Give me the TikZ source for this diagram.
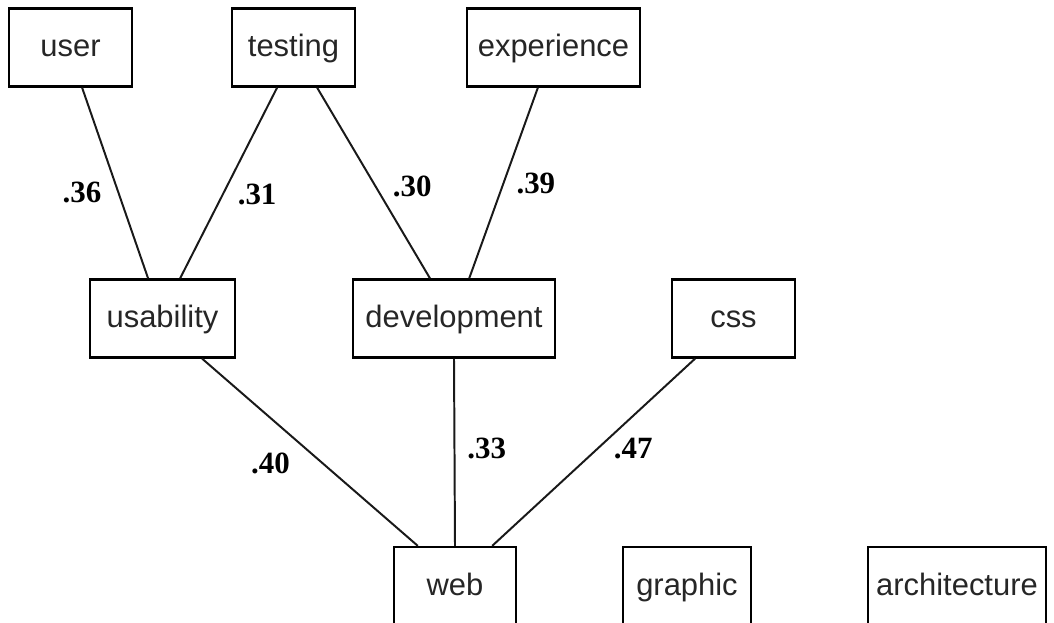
\documentclass[tikz,border=0pt]{standalone}
\usepackage{fontspec}
\setmainfont{Liberation Serif}
\setsansfont{Liberation Sans}
\usetikzlibrary{positioning}

\begin{document}
\begin{tikzpicture}[x=0.025cm,y=-0.025cm,auto,
		term node/.style={rectangle,draw,line width=1.6pt,inner sep=0pt,
			minimum height=1.95cm,text height=16pt,text depth=3pt,
			font=\sffamily\fontsize{22}{26}\selectfont,text=black!85},
		every edge/.style={draw,line width=1.4pt,black!90}]
		\useasboundingbox (0,0) rectangle (1054,623);
		
		\node[term node, minimum width=3.075cm] (user) at (70.5,47.5) {user};
		\node[term node, minimum width=3.075cm] (testing) at (293.5,47.5) {testing};
		\node[term node, minimum width=4.325cm] (experience) at (553.5,47.5) {experience};
		\node[term node, minimum width=3.625cm] (usability) at (162.5,318.5) {usability};
		\node[term node, minimum width=5.05cm] (development) at (454,318.5) {development};
		\node[term node, minimum width=3.075cm] (css) at (733.5,318.5) {css};
		\node[term node, minimum width=3.05cm] (web) at (455,586) {web};
		\node[term node, minimum width=3.2cm] (graphic) at (687,586) {graphic};
		\node[term node, minimum width=4.45cm] (architecture) at (957,586) {architecture};
		
		\path[every node/.style={font=\bfseries\fontsize{22}{26}\selectfont,inner sep=0pt,text=black}]
		([xshift=.29cm]user.south) edge node[pos=.55,left=.4cm] {.36} ([xshift=-.36cm]usability.north)
		([xshift=-.41cm]testing.south) edge node[pos=.56,right=.35cm] {.31} ([xshift=.44cm]usability.north)
		([xshift=.59cm]testing.south) edge node[pos=.52,right=.4cm] {.30} ([xshift=-.6cm]development.north)
		([xshift=-.39cm]experience.south) edge node[pos=.5,right=.3cm] {.39} ([xshift=.38cm]development.north)
		([xshift=.99cm]usability.south) edge node[pos=.56,left=.8cm] {.40} ([xshift=-.93cm]web.north)
		(development.south) edge node[pos=.48,right=.3cm] {.33} (web.north)
		([xshift=-.96cm]css.south) edge node[pos=.48,right=.38cm] {.47} ([xshift=.93cm]web.north);
\end{tikzpicture}
\end{document}
